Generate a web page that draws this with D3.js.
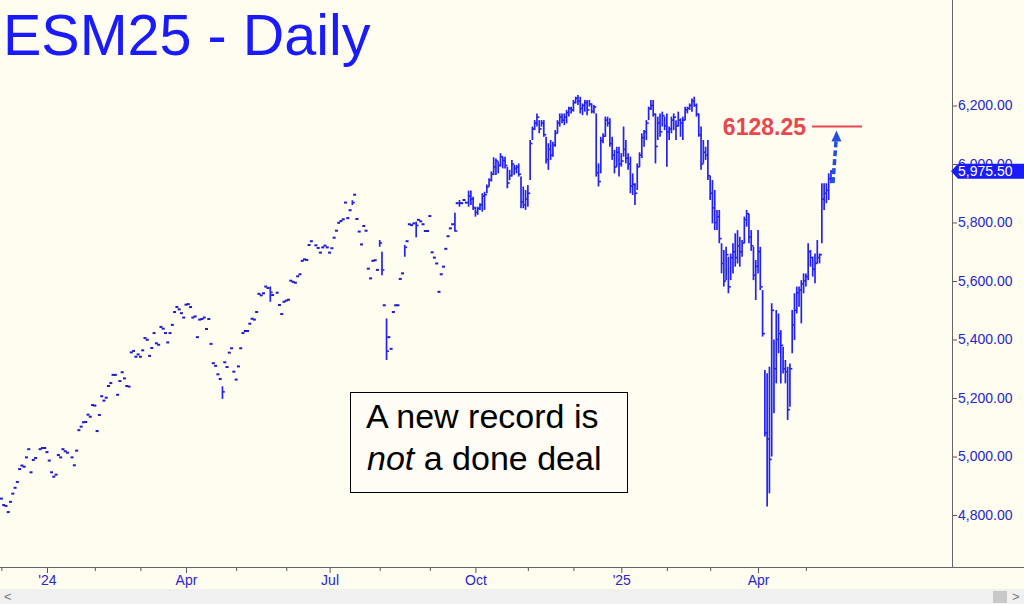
<!DOCTYPE html>
<html><head><meta charset="utf-8">
<script src="https://cdn.jsdelivr.net/npm/d3@7"></script>
<style>
html,body{margin:0;padding:0;background:#fffcf0;}
svg{display:block;font-family:"Liberation Sans",Arial,sans-serif;}
</style></head><body>
<svg id="c" width="1024" height="604"></svg>
<script>
// ---------------- DATA ----------------
const chartTitle = "ESM25 - Daily";
const holidays = ["2023-12-25","2024-01-01","2024-01-15","2024-02-19","2024-03-29","2024-05-27","2024-06-19","2024-07-04","2024-09-02","2024-11-28","2024-12-25","2025-01-01","2025-01-09","2025-01-20","2025-02-17","2025-04-18"];

// thin-trading days (single-price prints), Dec 1 2023 onward; null = no print
const dotCloses = [
4856,4834,4831,4810,4845,4873,4893,4913,4957,4969,
4965,4997,5025,4946,4988,4995,null,5025,5029,5029,
5015,4986,4946,4931,4938,5005,4997,5025,5018,5013,
null,4997,4970,5020,5090,5102,5117,5118,5143,5136,
5176,5174,5087,5142,5206,5191,5201,5241,5251,5279,
5279,5211,5258,5288,5267,5241,5239,5356,5361,5341,
5349,5341,5363,5405,5399,5344,5371,5422,5387,5382,
5443,5437,5422,5390,5422,5450,5494,5511,5503,5490,
5475,5519,5521,5511,5475,5479,5408,5468,5470,5475,
5436,5470,5385,5319,5310,5281,5265,5221,5322,5306,
5355,5370,5290,5263,5308,5370,5422,5429,5429,5454,
5471,5468,5494,5556,5551,5558,5581,5576,5561,5552,
null,5560,5518,5487,5529,5533,5536,5601,5597,5594,
5616,5623,5669,5674,5672,5723,5736,null,5722,5713,
5697,5715,5721,5715,5697,5712,5748,5772,5799,5805,
5811,5868,5815,5842,5868,5895,5812,5769,5725,5788,
5772,5642,5609,5669,5671,5638,5730,5638,5517,5360,
5408,5368,5494,5517,5517,5607,5626,5715,5736,5794,
5791,5797,5790,5809,5804,5794,5771,5771,5822,5698,
5680,5660,5563,5623,5649,5710,5753,5780,5794,5771,
5866,5866,5866,5877,5868
];
// days in the thin period that did show a range: [day index, high, low]
const dotRanges = [[97,5240,5197],[118,5581,5529],[154,5876,5860],[166,5740,5717],[167,5700,5620],[169,5472,5330],[177,5723,5683],[182,5803,5749],[199,5833,5769],[201,5877,5854]];

// full daily bars from day index 205 onward
const barHighs = [
5909,5909,5888,5854,5854,5866,5900,5905,5930,5951,
5975,6023,6019,6008,6037,6025,6025,5991,5980,6014,
5997,5997,6002,5957,5923,5911,5928,6082,6128,6150,
6173,6150,6150,6150,6093,6071,6082,6076,6116,6150,
6173,6173,6173,6185,6196,6196,6219,6230,6236,6230,
6207,6219,6219,6219,6207,6202,6173,6002,6093,6105,
6162,6162,6156,6093,6048,6059,6059,6037,6128,6082,
6037,6025,5968,5934,6002,6040,6105,6116,6150,6196,
6219,6219,6173,6162,6173,6179,6162,6173,6128,6162,
6173,6150,6179,6156,6162,6196,6196,6207,6224,6230,
6207,6173,6128,6082,6059,6082,5960,5945,5911,5843,
5843,5729,5706,5717,5683,5694,5729,5763,5774,5751,
5740,5820,5843,5831,5774,5717,5672,5774,5717,5569,
5296,5285,5307,5524,5400,5501,5489,5432,5375,5330,
5307,5318,5501,5558,5581,5581,5603,5626,5626,5729,
5706,5683,5694,5740,5694,5934,5934,5934,5968,5979
];
const barLows = [
5854,5860,5843,5820,5826,5843,5837,5843,5900,5923,
5940,5962,5962,5968,5991,5985,5985,5917,5945,5957,
5963,5968,5957,5849,5849,5843,5854,5945,6082,6116,
6128,6105,6128,6093,6002,5980,6014,6025,6059,6105,
6128,6139,6133,6139,6162,6173,6179,6207,6202,6173,
6167,6179,6167,6196,6173,6173,5957,5923,5968,6071,
6093,6128,6059,6014,5968,5991,5957,5991,6025,6002,
5980,5900,5894,5860,5911,5990,6020,6059,6082,6150,
6185,6162,6002,6082,6093,6128,6116,5991,6082,6105,
6116,6082,6128,6093,6082,6150,6173,6185,6179,6196,
6162,6093,5980,6002,6014,5945,5877,5797,5774,5774,
5729,5626,5581,5603,5558,5603,5626,5649,5660,5649,
5683,5729,5786,5729,5703,5603,5535,5626,5569,5410,
5068,4829,4874,5000,5148,5250,5353,5250,5284,5250,
5125,5170,5353,5398,5489,5512,5455,5558,5581,5603,
5649,5615,5592,5660,5660,5729,5843,5866,5877,5934
];
const barCloses = [
5890,5880,5850,5835,5848,5860,5890,5895,5922,5945,
5965,5990,6010,5995,6025,6012,5995,5935,5960,6000,
5985,5990,5965,5870,5860,5880,5900,6070,6120,6140,
6160,6120,6140,6100,6015,6050,6030,6065,6105,6140,
6160,6150,6160,6175,6190,6185,6210,6225,6215,6190,
6200,6210,6185,6205,6180,6195,5970,5940,6080,6095,
6150,6140,6070,6030,5990,6040,6000,6010,6050,6020,
6000,5925,5930,5900,5990,6030,6090,6110,6140,6190,
6200,6170,6060,6140,6110,6165,6130,6110,6120,6150,
6160,6130,6150,6140,6150,6185,6190,6200,6215,6200,
6170,6100,6000,6040,6030,5960,5900,5850,5800,5820,
5745,5660,5600,5690,5580,5680,5700,5680,5720,5700,
5730,5810,5830,5750,5720,5620,5650,5700,5580,5420,
5080,5060,4990,5500,5300,5400,5420,5380,5300,5290,
5160,5300,5450,5500,5560,5570,5590,5600,5615,5700,
5680,5640,5660,5680,5690,5880,5900,5910,5950,5975.5
];
const firstBarIndex = 205;

const yTicks = [4800,5000,5200,5400,5600,5800,6000,6200];
const monthLabels = {"2024-01":"'24","2024-04":"Apr","2024-07":"Jul","2024-10":"Oct","2025-01":"'25","2025-04":"Apr"};
const lastPrice = 5975.50;
const targetPrice = 6128.25;
const targetLabel = "6128.25";
const noteLine1 = "A new record is";
const noteLine2Italic = "not";
const noteLine2Rest = " a done deal";

// ---------------- LAYOUT ----------------
const W = 1024, H = 604;
const axisX = 952, axisY = 567;
const barStep = 2.279, firstX = 1.4;
const N = dotCloses.length + barCloses.length;
const blue = "#2222f2", labelBlue = "#2626d0";

// trading calendar
const hol = new Set(holidays);
const dates = [];
{ const d = new Date(Date.UTC(2023, 11, 1));
  while (dates.length < N) {
    const dow = d.getUTCDay(), s = d.toISOString().slice(0, 10);
    if (dow !== 0 && dow !== 6 && !hol.has(s)) dates.push(s);
    d.setUTCDate(d.getUTCDate() + 1);
  } }

const x = d3.scaleLinear().domain([0, N - 1]).range([firstX, firstX + (N - 1) * barStep]);
const y = d3.scaleLinear().domain([4800, 6200]).range([515, 105.5]);

const svg = d3.select("#c");
svg.append("rect").attr("width", W).attr("height", H).attr("fill", "#fffcf0");

// scroll bar strip
svg.append("rect").attr("x", 0).attr("y", 589).attr("width", W).attr("height", 15).attr("fill", "#f0f0f0");
svg.append("text").attr("x", 4).attr("y", 601).attr("font-size", 13).attr("fill", "#777").text("<");
svg.append("rect").attr("x", 993).attr("y", 591).attr("width", 14).attr("height", 12).attr("fill", "#c9c9c9");
svg.append("text").attr("x", 1012).attr("y", 601).attr("font-size", 13).attr("fill", "#777").text(">");

// title
svg.append("text").attr("x", 3).attr("y", 55).attr("font-size", 57.5).attr("fill", "#1a1aff").text(chartTitle);

// bars
const g = svg.append("g");
const rangeMap = new Map(dotRanges.map(r => [r[0], r]));
dotCloses.forEach((c, i) => {
  if (c == null) return;
  const cx = x(i);
  if (rangeMap.has(i)) {
    const r = rangeMap.get(i);
    g.append("line").attr("x1", cx).attr("x2", cx).attr("y1", y(r[1])).attr("y2", y(r[2]))
      .attr("stroke", blue).attr("stroke-width", 1.7);
    g.append("line").attr("x1", cx).attr("x2", cx + 2.4).attr("y1", y(c)).attr("y2", y(c))
      .attr("stroke", blue).attr("stroke-width", 1.6);
  } else {
    g.append("rect").attr("x", cx - 1.5).attr("y", y(c) - 1).attr("width", 3).attr("height", 2).attr("fill", "#1c1cd0");
  }
});
barCloses.forEach((c, k) => {
  const i = firstBarIndex + k, cx = x(i);
  g.append("line").attr("x1", cx).attr("x2", cx).attr("y1", y(barHighs[k])).attr("y2", y(barLows[k]))
    .attr("stroke", blue).attr("stroke-width", 1.7);
  g.append("line").attr("x1", cx).attr("x2", cx + 2.4).attr("y1", y(c)).attr("y2", y(c))
    .attr("stroke", blue).attr("stroke-width", 1.6);
});

// target line & label
const tx = x(N - 1);
svg.append("line").attr("x1", 812).attr("x2", 862).attr("y1", y(targetPrice)).attr("y2", y(targetPrice))
  .attr("stroke", "#e8474f").attr("stroke-width", 2);
svg.append("text").attr("x", 806).attr("y", y(targetPrice) + 9).attr("text-anchor", "end")
  .attr("font-size", 23).attr("font-weight", "bold").attr("fill", "#e8474f").text(targetLabel);

// dashed arrow from last close towards target
const ax0 = tx + 2, ay0 = y(lastPrice) + 12, ax1 = tx + 5.5, ay1 = y(targetPrice) + 4;
svg.append("line").attr("x1", ax0).attr("y1", ay0).attr("x2", ax1 - 0.4).attr("y2", ay1 + 10)
  .attr("stroke", "#2050e0").attr("stroke-width", 3.5).attr("stroke-dasharray", "6,3");
svg.append("path").attr("d", `M${ax1},${ay1} L${ax1 - 5},${ay1 + 11} L${ax1 + 5},${ay1 + 11} Z`).attr("fill", "#2050e0");

// note box
const note = svg.append("g");
note.append("rect").attr("x", 350.5).attr("y", 392.5).attr("width", 277).attr("height", 100)
  .attr("fill", "#fffdf6").attr("stroke", "#000").attr("stroke-width", 1);
note.append("text").attr("x", 366).attr("y", 428).attr("font-size", 34).attr("fill", "#000").text(noteLine1);
const t2 = note.append("text").attr("x", 367).attr("y", 470).attr("font-size", 34).attr("fill", "#000");
t2.append("tspan").attr("font-style", "italic").text(noteLine2Italic);
t2.append("tspan").text(noteLine2Rest);

// right axis
const yAxis = d3.axisRight(y).tickValues(yTicks).tickFormat(d3.format(",.2f")).tickSize(5).tickPadding(1);
const ya = svg.append("g").attr("transform", `translate(${axisX},0)`).call(yAxis);
ya.select(".domain").remove();
ya.selectAll(".tick line").attr("stroke", "#555");
ya.selectAll(".tick text").attr("fill", labelBlue).attr("font-size", 14).attr("font-family", "Liberation Sans, Arial, sans-serif");
svg.append("line").attr("x1", axisX + 0.5).attr("x2", axisX + 0.5).attr("y1", 0).attr("y2", axisY).attr("stroke", "#666");

// last price tag (drawn over the 6,000.00 label, as in the original)
const ly = y(lastPrice);
svg.append("path").attr("d", `M${axisX - 1},${ly} L${axisX + 6},${ly - 7.5} L${W},${ly - 7.5} L${W},${ly + 7.5} L${axisX + 6},${ly + 7.5} Z`).attr("fill", "#1a1aff");
svg.append("text").attr("x", 958).attr("y", ly + 5).attr("font-size", 14).attr("fill", "#fff").text(d3.format(",.2f")(lastPrice));

// bottom axis
const monthStarts = dates.map((d, i) => i).filter(i => i === 0 || dates[i].slice(0, 7) !== dates[i - 1].slice(0, 7));
const majors = monthStarts.filter(i => monthLabels[dates[i].slice(0, 7)]);
const minors = monthStarts.filter(i => !monthLabels[dates[i].slice(0, 7)]);
const xMinor = svg.append("g").attr("transform", `translate(0,${axisY})`)
  .call(d3.axisBottom(x).tickValues(minors).tickFormat("").tickSize(4));
const xMajor = svg.append("g").attr("transform", `translate(0,${axisY})`)
  .call(d3.axisBottom(x).tickValues(majors).tickFormat(i => monthLabels[dates[i].slice(0, 7)]).tickSize(6).tickPadding(2));
[xMinor, xMajor].forEach(a => { a.select(".domain").remove(); a.selectAll(".tick line").attr("stroke", "#555"); });
xMajor.selectAll(".tick text").attr("fill", labelBlue).attr("font-size", 14).attr("font-family", "Liberation Sans, Arial, sans-serif");
svg.append("line").attr("x1", 0).attr("x2", W).attr("y1", axisY + 0.5).attr("y2", axisY + 0.5).attr("stroke", "#666");
</script>
</body></html>
